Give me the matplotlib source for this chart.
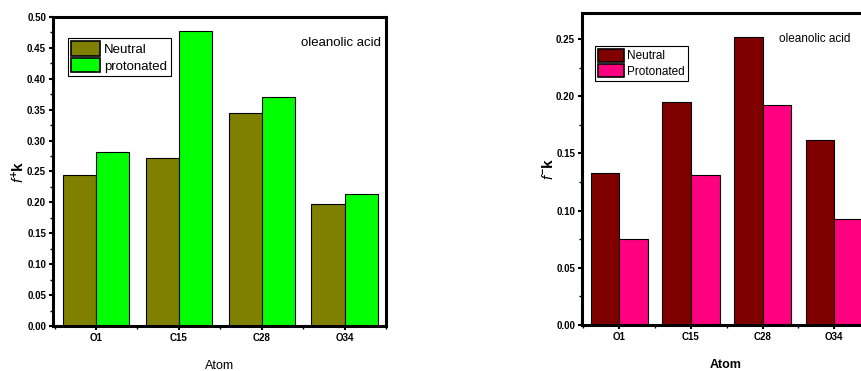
import matplotlib
matplotlib.use("Agg")
import matplotlib.pyplot as plt
import numpy as np
from matplotlib.ticker import MultipleLocator

plt.rcParams['font.family'] = ['Liberation Sans', 'DejaVu Sans']
plt.rcParams['mathtext.fontset'] = 'custom'
plt.rcParams['mathtext.rm'] = 'Liberation Sans'
plt.rcParams['mathtext.it'] = 'Liberation Sans:italic'
plt.rcParams['mathtext.bf'] = 'Liberation Sans:bold'

# data
atoms = ["O1", "C15", "C28", "O34"]
plus_neutral = [0.245, 0.272, 0.344, 0.197]
plus_protonated = [0.282, 0.477, 0.371, 0.214]
minus_neutral = [0.133, 0.195, 0.252, 0.162]
minus_protonated = [0.075, 0.131, 0.192, 0.093]

fig = plt.figure(figsize=(8.61, 3.71), dpi=100)
W, H = 861.0, 371.0

ax1 = fig.add_axes([53 / W, (H - 326) / H, (386 - 53) / W, (326 - 17) / H])
ax2 = fig.add_axes([582 / W, (H - 325) / H, (870 - 582) / W, (325 - 13) / H])

x = np.arange(len(atoms))
bw = 0.4


def draw(ax, neutral, prot, c1, c2, labels, ylim, ylabel, xlabel_bold, leg_top, fs):
    ax.bar(x - bw / 2, neutral, bw, color=c1, edgecolor='black', linewidth=0.8, label=labels[0])
    ax.bar(x + bw / 2, prot, bw, color=c2, edgecolor='black', linewidth=0.8, label=labels[1])
    ax.set_xlim(-0.52, 3.5)
    ax.set_ylim(*ylim)
    ax.set_xticks(x)
    ax.set_xticklabels(atoms, fontsize=7, fontweight='bold')
    ax.yaxis.set_major_locator(MultipleLocator(0.05))
    ax.yaxis.set_minor_locator(MultipleLocator(0.025))
    ax.xaxis.set_minor_locator(MultipleLocator(0.5))
    ax.yaxis.set_major_formatter(plt.FuncFormatter(lambda v, p: f"{v:.2f}"))
    for lab in ax.get_yticklabels():
        lab.set_fontsize(7)
        lab.set_fontweight('bold')
    ax.tick_params(axis='both', which='major', direction='out', length=3, width=1.5, pad=2)
    ax.tick_params(axis='both', which='minor', direction='out', length=2, width=1)
    ax.tick_params(axis='x', which='minor', labelbottom=False)
    for s in ax.spines.values():
        s.set_linewidth(2.2)
    ax.set_ylabel(ylabel, fontsize=11, labelpad=0)
    ax.set_xlabel("Atom", fontsize=9, fontweight='bold' if xlabel_bold else 'normal', labelpad=12)
    leg = ax.legend(loc='upper left', bbox_to_anchor=(0.045, leg_top), fontsize=fs,
                    frameon=True, fancybox=False, edgecolor='black', framealpha=1,
                    handlelength=2.2, handleheight=1.3, handletextpad=0.3,
                    labelspacing=0.15, borderpad=0.25, borderaxespad=0)
    leg.get_frame().set_linewidth(0.8)
    for h in leg.legend_handles:
        h.set_linewidth(1.2)


draw(ax1, plus_neutral, plus_protonated, '#808000', '#00ff00', ["Neutral", "protonated"],
     (0, 0.5), r'$f^{\mathbf{+}}\mathbf{k}$', False, 0.932, 9.5)
ax1.text(0.985, 0.915, "oleanolic acid", transform=ax1.transAxes, ha='right', va='center', fontsize=9.5)

draw(ax2, minus_neutral, minus_protonated, '#800000', '#ff0080', ["Neutral", "Protonated"],
     (0, 0.2728), r'$f^{\mathbf{-}}\mathbf{k}$', True, 0.894, 8.5)
ax2.text(779 / W, (H - 39) / H, "oleanolic acid", transform=fig.transFigure, ha='left', va='center', fontsize=8.5)

fig.savefig("out.png", dpi=100)
